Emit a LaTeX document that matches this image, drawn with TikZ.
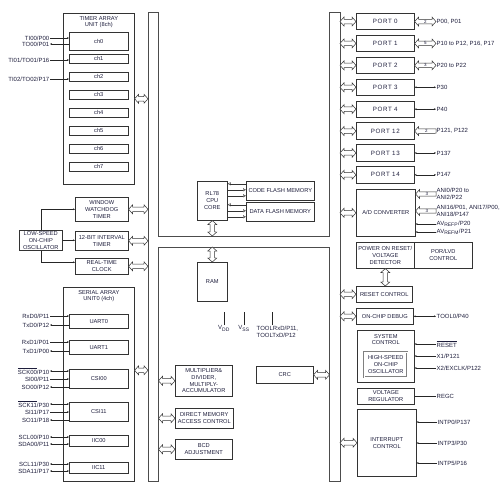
\documentclass[tikz,border=0pt]{standalone}
\usepackage{fontspec}
\setmainfont{Liberation Sans}
\usetikzlibrary{arrows.meta,calc}
\definecolor{ink}{RGB}{30,30,60}
\newcommand\blkfont{\fontsize{5.7}{6.8}\selectfont}
\newcommand\pinfont{\fontsize{6}{7}\selectfont}
\newcommand\numfont{\fontsize{4.5}{5}\selectfont}

% hollow bus arrows, drawn as outlines
\tikzset{
  hol/.style={draw=black!80, line width=0.5pt, fill=white, to path={
    -- ($(\tikztostart)!6.02pt!48.37:(\tikztotarget)$)
    -- ($(\tikztostart)!4.57pt!28.81:(\tikztotarget)$)
    -- ($(\tikztotarget)!4.57pt!-28.81:(\tikztostart)$)
    -- ($(\tikztotarget)!6.02pt!-48.37:(\tikztostart)$)
    -- (\tikztotarget)
    -- ($(\tikztotarget)!6.02pt!48.37:(\tikztostart)$)
    -- ($(\tikztotarget)!4.57pt!28.81:(\tikztostart)$)
    -- ($(\tikztostart)!4.57pt!-28.81:(\tikztotarget)$)
    -- ($(\tikztostart)!6.02pt!-48.37:(\tikztotarget)$)
    -- cycle}},
  hol1/.style={draw=black!80, line width=0.5pt, fill=white, to path={
    -- ($(\tikztostart)!6.02pt!48.37:(\tikztotarget)$)
    -- ($(\tikztostart)!4.57pt!28.81:(\tikztotarget)$)
    -- ($(\tikztotarget)!2.2pt!-90:(\tikztostart)$)
    -- ($(\tikztotarget)!2.2pt!90:(\tikztostart)$)
    -- ($(\tikztostart)!4.57pt!-28.81:(\tikztotarget)$)
    -- ($(\tikztostart)!6.02pt!-48.37:(\tikztotarget)$)
    -- cycle}}
}

\begin{document}
\begin{tikzpicture}[x=1pt, y=-1pt,
  blk/.style={draw=black!80, line width=0.6pt, rectangle, inner sep=0pt, anchor=north west, align=center, font=\blkfont, text=ink},
  ttl/.style={inner sep=0pt, anchor=north, align=center, font=\blkfont, text=ink},
  pinlbl/.style={inner sep=0.5pt, font=\pinfont, text=ink},
  wire/.style={draw=black!85, line width=0.45pt},
  tobox/.style={wire, -{Stealth[length=2pt,width=1.8pt]}},
  tolbl/.style={wire, {Stealth[length=2pt,width=1.8pt]}-},
  bidir/.style={wire, {Stealth[length=2pt,width=1.8pt]}-{Stealth[length=2pt,width=1.8pt]}},
  cpuarr/.style={draw=black!80, line width=0.4pt, -{Latex[open,length=3pt,width=3.4pt]}},
  numlbl/.style={inner sep=0pt, font=\numfont, text=ink}]
\useasboundingbox (0,0) rectangle (503,492);

% internal bus
\draw[draw=black!70, line width=0.7pt, fill=white] (148,12) -| (158.5,236) -| (329.5,12) -| (340,481) -| (329.5,247) -| (158.5,481) -- (148,481) -- cycle;
\coordinate (busL) at (148,0);
\coordinate (busLi) at (158.5,0);
\coordinate (busRi) at (329.5,0);
\coordinate (busR) at (340,0);
\coordinate (barT) at (0,236);
\coordinate (barB) at (0,247);
\coordinate (pinx) at (436,0);

% timer array unit
\node[blk, minimum width=71pt, minimum height=171pt] (tau) at (63,13) {};
\node[ttl] (tautitle) at ([yshift=-3pt]tau.north) {TIMER ARRAY\\UNIT (8ch)};
\node[blk, minimum width=59pt, minimum height=18pt] (ch0) at (69,32) {ch0};
\foreach \i in {1,...,7}
  \node[blk, minimum width=59pt, minimum height=9pt] (ch\i) at (69,{54+18*(\i-1)}) {ch\i};
\node[pinlbl, anchor=east] (ti00) at (50,38) {TI00/P00};
\node[pinlbl, anchor=east] (to00) at (50,44) {TO00/P01};
\node[pinlbl, anchor=east] (ti01) at (50,60) {TI01/TO01/P16};
\node[pinlbl, anchor=east] (ti02) at (50,79) {TI02/TO02/P17};
\draw[tobox] (ti00.east) -- (ti00.east -| ch0.west);
\draw[tolbl] (to00.east) -- (to00.east -| ch0.west);
\draw[tobox] (ti01.east) -- (ti01.east -| ch1.west);
\draw[tobox] (ti02.east) -- (ti02.east -| ch2.west);
\draw[hol] (tau.east) to (tau.east -| busL);

% timers on the low-speed oscillator
\node[blk, minimum width=53pt, minimum height=24pt] (wdt) at (75,197) {WINDOW\\WATCHDOG\\TIMER};
\node[blk, minimum width=53pt, minimum height=19pt] (itmr) at (75,231) {12-BIT INTERVAL\\TIMER};
\node[blk, minimum width=53pt, minimum height=16pt] (rtc) at (75,258) {REAL-TIME\\CLOCK};
\node[blk, minimum width=43pt, minimum height=20pt] (losc) at (19,230) {LOW-SPEED\\ON-CHIP\\OSCILLATOR};
\draw[tobox] (losc.north) |- (wdt.west);
\draw[tobox] (losc.east) -- (losc.east -| itmr.west);
\draw[tobox] (losc.south) |- ([yshift=4pt]rtc.west);
\foreach \t in {wdt, itmr, rtc}
  \draw[hol] (\t.east) to (\t.east -| busL);

% serial array unit
\node[blk, minimum width=71pt, minimum height=194pt] (sau) at (63,287) {};
\node[ttl] (sautitle) at ([yshift=-3pt]sau.north) {SERIAL ARRAY\\UNIT0 (4ch)};
\node[blk, minimum width=59pt, minimum height=14pt] (uart0) at (69,314) {UART0};
\node[blk, minimum width=59pt, minimum height=14pt] (uart1) at (69,340) {UART1};
\node[blk, minimum width=59pt, minimum height=19pt] (csi00) at (69,369) {CSI00};
\node[blk, minimum width=59pt, minimum height=19pt] (csi11) at (69,402) {CSI11};
\node[blk, minimum width=59pt, minimum height=11pt] (iic00) at (69,435) {IIC00};
\node[blk, minimum width=59pt, minimum height=11pt] (iic11) at (69,462) {IIC11};
\foreach \n/\t/\y/\b/\s in {
  rxd0/{RxD0/P11}/316/uart0/tobox, txd0/{TxD0/P12}/325/uart0/tolbl,
  rxd1/{RxD1/P01}/342/uart1/tobox, txd1/{TxD1/P00}/351/uart1/tolbl,
  sck00/{$\overline{\mbox{SCK00}}$/P10}/371/csi00/bidir, si00/{SI00/P11}/379/csi00/tobox, so00/{SO00/P12}/387/csi00/tolbl,
  sck11/{$\overline{\mbox{SCK11}}$/P30}/404/csi11/bidir, si11/{SI11/P17}/412/csi11/tobox, so11/{SO11/P18}/420/csi11/tolbl,
  scl00/{SCL00/P10}/437/iic00/bidir, sda00/{SDA00/P11}/444/iic00/bidir,
  scl11/{SCL11/P30}/464/iic11/bidir, sda11/{SDA11/P17}/471/iic11/bidir}
{
  \node[pinlbl, anchor=east] (\n) at (50,\y) {\t};
  \draw[\s] (\n.east) -- (\n.east -| \b.west);
}
\draw[hol] ([yshift=14pt]sau.east) to ([yshift=14pt]sau.east -| busL);

% cpu, flash and ram
\node[blk, minimum width=30pt, minimum height=39pt] (cpu) at (197,181) {RL78\\CPU\\CORE};
\node[blk, minimum width=68pt, minimum height=19pt] (cflash) at (246,181) {CODE FLASH MEMORY};
\node[blk, minimum width=68pt, minimum height=19pt] (dflash) at (246,202) {DATA FLASH MEMORY};
\foreach \m in {cflash, dflash} {
  \draw[cpuarr] ([yshift=7pt]\m.west) -- ([yshift=7pt]cpu.east |- \m.west);
  \draw[cpuarr] ([yshift=1pt]cpu.east |- \m.west) -- ([yshift=1pt]\m.west);
  \draw[cpuarr] ([yshift=-5pt]cpu.east |- \m.west) -- ([yshift=-5pt]\m.west);
}
\draw[hol] (cpu.south) to (cpu.south |- barT);
\node[blk, minimum width=30pt, minimum height=39pt] (ram) at (197,262) {RAM};
\draw[hol] (ram.north |- barB) to (ram.north);
\node[pinlbl, anchor=north] (vdd) at (224,325) {V\textsubscript{DD}};
\node[pinlbl, anchor=north] (vss) at (244,325) {V\textsubscript{SS}};
\node[pinlbl, anchor=north west, align=left] (tool) at (256,325) {TOOLRxD/P11,\\TOOLTxD/P12};
\draw[wire] (vdd.north) -- ++(0,-13);
\draw[wire] (vss.north) -- ++(0,-13);
\draw[wire] ([xshift=16pt]tool.north west) -- ++(0,-13);

% multiplier, dma, bcd, crc
\node[blk, minimum width=57pt, minimum height=31pt] (mdac) at (175,365) {MULTIPLIER\&\\DIVIDER,\\MULTIPLY-\\ACCUMULATOR};
\node[blk, minimum width=58pt, minimum height=20pt] (dma) at (175,408) {DIRECT MEMORY\\ACCESS CONTROL};
\node[blk, minimum width=57pt, minimum height=20pt] (bcd) at (175,439) {BCD\\ADJUSTMENT};
\foreach \t in {mdac, dma, bcd}
  \draw[hol] (\t.west -| busLi) to (\t.west);
\node[blk, minimum width=57pt, minimum height=17pt] (crc) at (256,366) {CRC};
\draw[hol] (crc.east) to (crc.east -| busRi);

% ports
\foreach \n/\t [count=\k from 0] in {p0/0, p1/1, p2/2, p3/3, p4/4, p12/12, p13/13, p14/14} {
  \node[blk, minimum width=58pt, minimum height=16.5pt] (\n) at (356,{13+21.9*\k}) {\fontsize{6.2}{7}\selectfont\addfontfeatures{LetterSpace=10}PORT \t};
  \draw[hol] (\n.west -| busR) to (\n.west);
}
\node[pinlbl, anchor=west] (p0pin) at (p0.east -| pinx) {P00, P01};
\node[pinlbl, anchor=west] (p1pin) at (p1.east -| pinx) {P10 to P12, P16, P17};
\node[pinlbl, anchor=west] (p2pin) at (p2.east -| pinx) {P20 to P22};
\node[pinlbl, anchor=west] (p3pin) at (p3.east -| pinx) {P30};
\node[pinlbl, anchor=west] (p4pin) at (p4.east -| pinx) {P40};
\node[pinlbl, anchor=west] (p12pin) at (p12.east -| pinx) {P121, P122};
\node[pinlbl, anchor=west] (p13pin) at (p13.east -| pinx) {P137};
\node[pinlbl, anchor=west] (p14pin) at (p14.east -| pinx) {P147};
\draw[hol] (p0.east) to (p0pin.west);
\draw[hol] (p1.east) to (p1pin.west);
\draw[hol] (p2.east) to (p2pin.west);
\draw[hol1] (p12.east) to (p12pin.west);
\node[numlbl] (p0n) at ($(p0.east)!0.5!(p0pin.west)$) {2};
\node[numlbl] (p1n) at ($(p1.east)!0.5!(p1pin.west)$) {5};
\node[numlbl] (p2n) at ($(p2.east)!0.5!(p2pin.west)$) {3};
\node[numlbl] (p12n) at ($(p12.east)!0.55!(p12pin.west)$) {2};
\foreach \n in {p3, p4, p13, p14}
  \draw[bidir] (\n.east) -- (\n pin.west);

% a/d converter
\node[blk, minimum width=59pt, minimum height=47pt] (adc) at (356,189) {A/D CONVERTER};
\draw[hol] (adc.west -| busR) to (adc.west);
\node[pinlbl, anchor=west, align=left] (ani0) at (436,194) {ANI0/P20 to\\ANI2/P22};
\node[pinlbl, anchor=west, align=left] (ani16) at (436,211) {ANI16/P01, ANI17/P00,\\ANI18/P147};
\node[pinlbl, anchor=west] (avrefp) at (436,224) {AV\textsubscript{REFP}/P20};
\node[pinlbl, anchor=west] (avrefm) at (436,232) {AV\textsubscript{REFM}/P21};
\draw[hol1] (ani0.west -| adc.east) to (ani0.west);
\draw[hol1] (ani16.west -| adc.east) to (ani16.west);
\node[numlbl] (ani0n) at ($(ani0.west -| adc.east)!0.55!(ani0.west)$) {3};
\node[numlbl] (ani16n) at ($(ani16.west -| adc.east)!0.55!(ani16.west)$) {3};
\draw[tobox] (avrefp.west) -- (avrefp.west -| adc.east);
\draw[tobox] (avrefm.west) -- (avrefm.west -| adc.east);

% reset, debug
\node[blk, minimum width=58pt, minimum height=26pt] (por) at (356,242) {POWER ON RESET/\\VOLTAGE\\DETECTOR};
\node[blk, minimum width=58pt, minimum height=26pt] (lvd) at (414,242) {POR/LVD\\CONTROL};
\node[blk, minimum width=56pt, minimum height=16pt] (rstc) at (356,286) {RESET CONTROL};
\draw[hol] (por.south) to (por.south |- rstc.north);
\draw[hol] (rstc.west -| busR) to (rstc.west);
\node[blk, minimum width=57pt, minimum height=16pt] (ocd) at (356,308) {ON-CHIP DEBUG};
\draw[hol] (ocd.west -| busR) to (ocd.west);
\node[pinlbl, anchor=west] (tool0) at (ocd.east -| pinx) {TOOL0/P40};
\draw[bidir] (ocd.east) -- (tool0.west);

% system control, regulator, interrupts
\node[blk, minimum width=57pt, minimum height=52pt] (sysc) at (357,330) {};
\node[ttl] (sysct) at ([yshift=-4pt]sysc.north) {SYSTEM\\CONTROL};
\node[blk, minimum width=43pt, minimum height=25pt, draw=black!50, double, double distance=0.7pt] (hoco) at (364,352) {HIGH-SPEED\\ON-CHIP\\OSCILLATOR};
\node[pinlbl, anchor=west] (rstpin) at (436,344) {$\overline{\mbox{RESET}}$};
\node[pinlbl, anchor=west] (x1) at (436,356) {X1/P121};
\node[pinlbl, anchor=west] (x2) at (436,368) {X2/EXCLK/P122};
\foreach \p in {rstpin, x1, x2}
  \draw[tobox] (\p.west) -- (\p.west -| sysc.east);
\node[blk, minimum width=57pt, minimum height=16pt] (vreg) at (357,388) {VOLTAGE\\REGULATOR};
\node[pinlbl, anchor=west] (regc) at (vreg.east -| pinx) {REGC};
\draw[wire] (vreg.east) -- (regc.west);
\node[blk, minimum width=59pt, minimum height=67pt] (intc) at (357,409) {INTERRUPT\\CONTROL};
\draw[hol] (intc.west -| busR) to (intc.west);
\node[pinlbl, anchor=west] (intp0) at (437,422) {INTP0/P137};
\node[pinlbl, anchor=west] (intp3) at (437,443) {INTP3/P30};
\node[pinlbl, anchor=west] (intp5) at (437,463) {INTP5/P16};
\foreach \p in {intp0, intp3, intp5}
  \draw[tobox] (\p.west) -- (\p.west -| intc.east);
\end{tikzpicture}
\end{document}
